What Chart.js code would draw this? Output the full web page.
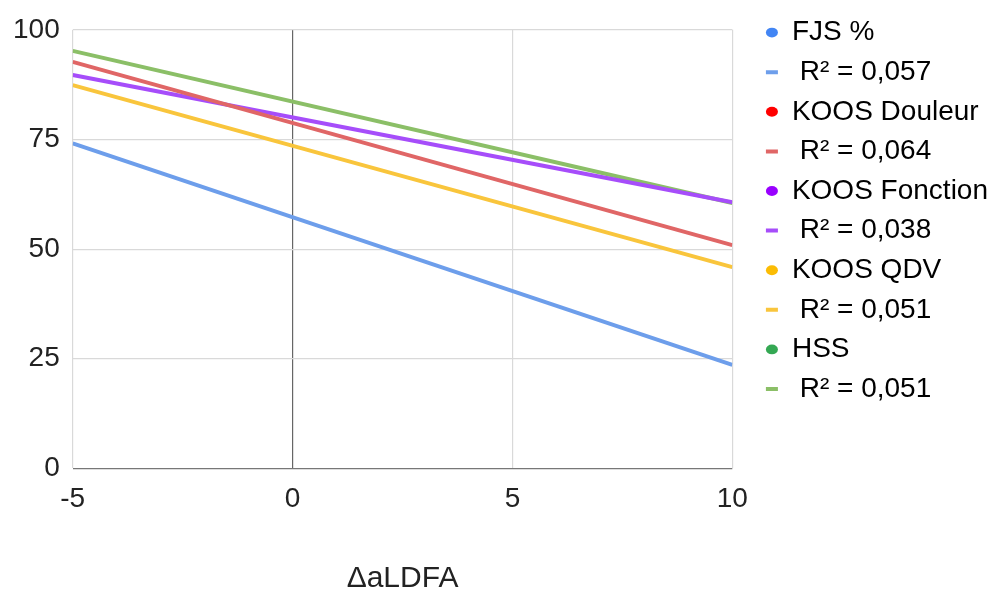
<!DOCTYPE html>
<html>
<head>
<meta charset="utf-8">
<script src="https://cdn.jsdelivr.net/npm/chart.js@4.4.0/dist/chart.umd.min.js"></script>
<style>
  html,body{margin:0;padding:0;background:#fff;}
  #wrap{width:998px;height:597px;}
</style>
</head>
<body>
<div id="wrap"><canvas id="c" width="998" height="597"></canvas></div>
<script>
// trendline end points (x = -5 and x = 10)
const xEnds      = [-5, 10];
const seriesNames = ['FJS %', 'KOOS Douleur', 'KOOS Fonction', 'KOOS QDV', 'HSS'];
const r2Labels    = ['R² = 0,057', 'R² = 0,064', 'R² = 0,038', 'R² = 0,051', 'R² = 0,051'];
const fjs      = [74.1, 23.6];
const douleur  = [92.7, 50.9];
const fonction = [89.7, 60.7];
const qdv      = [87.4, 45.9];
const hss      = [95.2, 60.5];
const xTicks = [-5, 0, 5, 10];
const yTicks = [0, 25, 50, 75, 100];

const dotColors   = ['#4285f4', '#ff0000', '#9900ff', '#fbbc04', '#34a853'];
const trendColors = ['#6d9eeb', '#e06666', '#a64dfa', '#f9c53c', '#8bbf67'];
const FONT = '"Liberation Sans", Arial, sans-serif';

const values = [fjs, douleur, fonction, qdv, hss];
const datasets = values.map((v,i)=>({
  label: r2Labels[i],
  data: xEnds.map((x,j)=>({x, y:v[j]})),
  borderColor: trendColors[i],
  borderWidth: 4,
  pointRadius: 0,
  fill: false,
  showLine: true,
  tension: 0,
}));

new Chart(document.getElementById('c'), {
  type: 'scatter',
  data: { datasets },
  options: {
    responsive: false,
    animation: false,
    layout: { padding: { top: 7, right: 0, left: 0, bottom: 0 } },
    plugins: {
      tooltip: { enabled: false },
      legend: {
        position: 'right',
        align: 'start',
        labels: {
          font: { family: FONT, size: 28 },
          color: '#222',
          usePointStyle: true,
          boxHeight: 7,
          pointStyleWidth: 12,
          padding: 11.6,
          generateLabels: () => {
            const out = [];
            seriesNames.forEach((n,i)=>{
              out.push({ text: n, pointStyle: 'circle', fillStyle: dotColors[i], strokeStyle: dotColors[i], lineWidth: 0 });
              out.push({ text: ' ' + r2Labels[i], pointStyle: 'line', fillStyle: trendColors[i], strokeStyle: trendColors[i], lineWidth: 4 });
            });
            return out;
          }
        }
      }
    },
    scales: {
      x: {
        type: 'linear', min: -5, max: 10,
        afterBuildTicks: a => { a.ticks = xTicks.map(v=>({value:v})); },
        grid: {
          color: c => c.tick && c.tick.value === 0 ? '#666' : '#d9d9d9',
          lineWidth: 1.2,
          drawTicks: false,
        },
        border: { display: false },
        ticks: { font: { family: FONT, size: 28 }, color: '#222', padding: 14, maxRotation: 0 },
        title: { display: true, text: 'ΔaLDFA', font: { family: FONT, size: 30 }, color: '#222', padding: { top: 31, bottom: 0 } }
      },
      y: {
        type: 'linear', min: 0, max: 100,
        afterBuildTicks: a => { a.ticks = yTicks.map(v=>({value:v})); },
        afterFit: s => { s.paddingTop = Math.max(s.paddingTop, 29); },
        grid: {
          color: c => c.tick && c.tick.value === 0 ? '#777' : '#d9d9d9',
          lineWidth: 1.2,
          drawTicks: false,
        },
        border: { display: false },
        ticks: { font: { family: FONT, size: 28 }, color: '#222', padding: 13 }
      },
      // hidden right-hand axis, only there to leave the gap before the legend
      yGap: {
        type: 'linear', position: 'right', min: 0, max: 100, display: false,
        afterFit: s => { s.width = 22; }
      }
    }
  }
});
</script>
</body>
</html>
